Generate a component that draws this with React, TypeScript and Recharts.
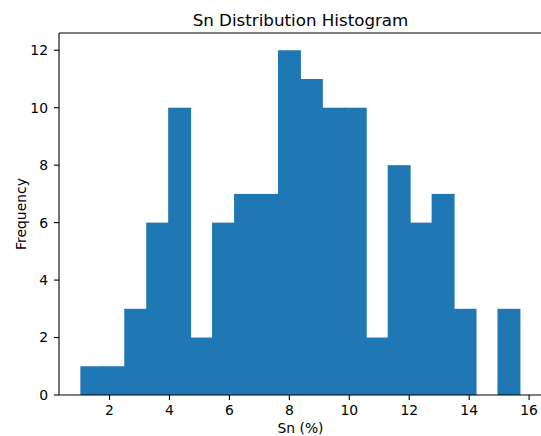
import { BarChart, Bar, XAxis, YAxis, ReferenceLine } from 'recharts'

// Bin centres of the Sn (%) histogram (20 bins)
const binCenters = [
    1.413, 2.146, 2.878, 3.611, 4.343, 5.076, 5.808, 6.541, 7.273, 8.006, 8.738, 9.471, 10.203,
    10.936, 11.668, 12.401, 13.133, 13.866, 14.598, 15.331,
]
// Counts
const frequencies = [1, 1, 3, 6, 10, 2, 6, 7, 7, 12, 11, 10, 10, 2, 8, 6, 7, 3, 0, 3]
const binWidth = 0.7325

const xTicks = [2, 4, 6, 8, 10, 12, 14, 16]
const yTicks = [0, 2, 4, 6, 8, 10, 12]

const data = binCenters.map((c, i) => ({ center: c, count: frequencies[i] }))

export default function App() {
    const font = 'DejaVu Sans, Verdana, sans-serif'
    const xDomain: [number, number] = [0.314, 16.43]
    const yDomain: [number, number] = [0, 12.6]

    // chart geometry
    const chartW = 545
    const chartH = 436
    const left = 59
    const right = 3
    const plotW = chartW - left - right
    const barPx = (binWidth * plotW) / (xDomain[1] - xDomain[0])

    const tickStyle = { fontSize: 13.9, fill: '#000', fontFamily: font }

    // histogram bins touch each other: draw each rect at full bin width around its centre
    const HistBar = (props: any) => {
        const { x, y, width, height } = props
        if (!height || height <= 0) return null
        const cx = x + width / 2
        return (
            <rect
                x={cx - barPx / 2 - 0.5}
                y={y}
                width={barPx + 1}
                height={height}
                fill="#1f77b4"
            />
        )
    }

    return (
        <div
            style={{
                position: 'absolute',
                left: 0,
                top: 0,
                width: 541,
                height: 436,
                overflow: 'hidden',
                background: '#fff',
                fontFamily: font,
            }}
        >
            {/* Titre */}
            <div
                style={{
                    position: 'absolute',
                    left: 0,
                    width: 601,
                    top: 12,
                    textAlign: 'center',
                    fontSize: 16.7,
                    lineHeight: 1,
                    color: '#000',
                    fontFamily: font,
                }}
            >
                Sn Distribution Histogram
            </div>
            <BarChart
                width={chartW}
                height={chartH}
                data={data}
                margin={{ top: 33, right: right, bottom: 0, left: 0 }}
                barGap={0}
                barCategoryGap={0}
            >
                <XAxis
                    type="number"
                    dataKey="center"
                    domain={xDomain}
                    allowDataOverflow
                    ticks={xTicks}
                    interval={0}
                    height={41}
                    tickSize={5}
                    tickMargin={5}
                    stroke="#000"
                    strokeWidth={1.1}
                    tick={tickStyle}
                    label={{
                        value: 'Sn (%)',
                        position: 'insideBottom',
                        offset: 3,
                        style: { fontSize: 13.9, fill: '#000', fontFamily: font },
                    }}
                />
                <YAxis
                    type="number"
                    domain={yDomain}
                    allowDataOverflow
                    ticks={yTicks}
                    interval={0}
                    width={left}
                    tickSize={5}
                    tickMargin={6}
                    stroke="#000"
                    strokeWidth={1.1}
                    tick={tickStyle}
                    label={{
                        value: 'Frequency',
                        angle: -90,
                        position: 'insideLeft',
                        offset: 21,
                        style: {
                            fontSize: 13.9,
                            fill: '#000',
                            fontFamily: font,
                            textAnchor: 'middle',
                        },
                    }}
                />
                {/* cadre du haut */}
                <ReferenceLine y={12.6} stroke="#000" strokeWidth={1.1} ifOverflow="visible" />
                <Bar
                    dataKey="count"
                    fill="#1f77b4"
                    barSize={barPx}
                    shape={HistBar}
                    isAnimationActive={false}
                />
            </BarChart>
        </div>
    )
}
